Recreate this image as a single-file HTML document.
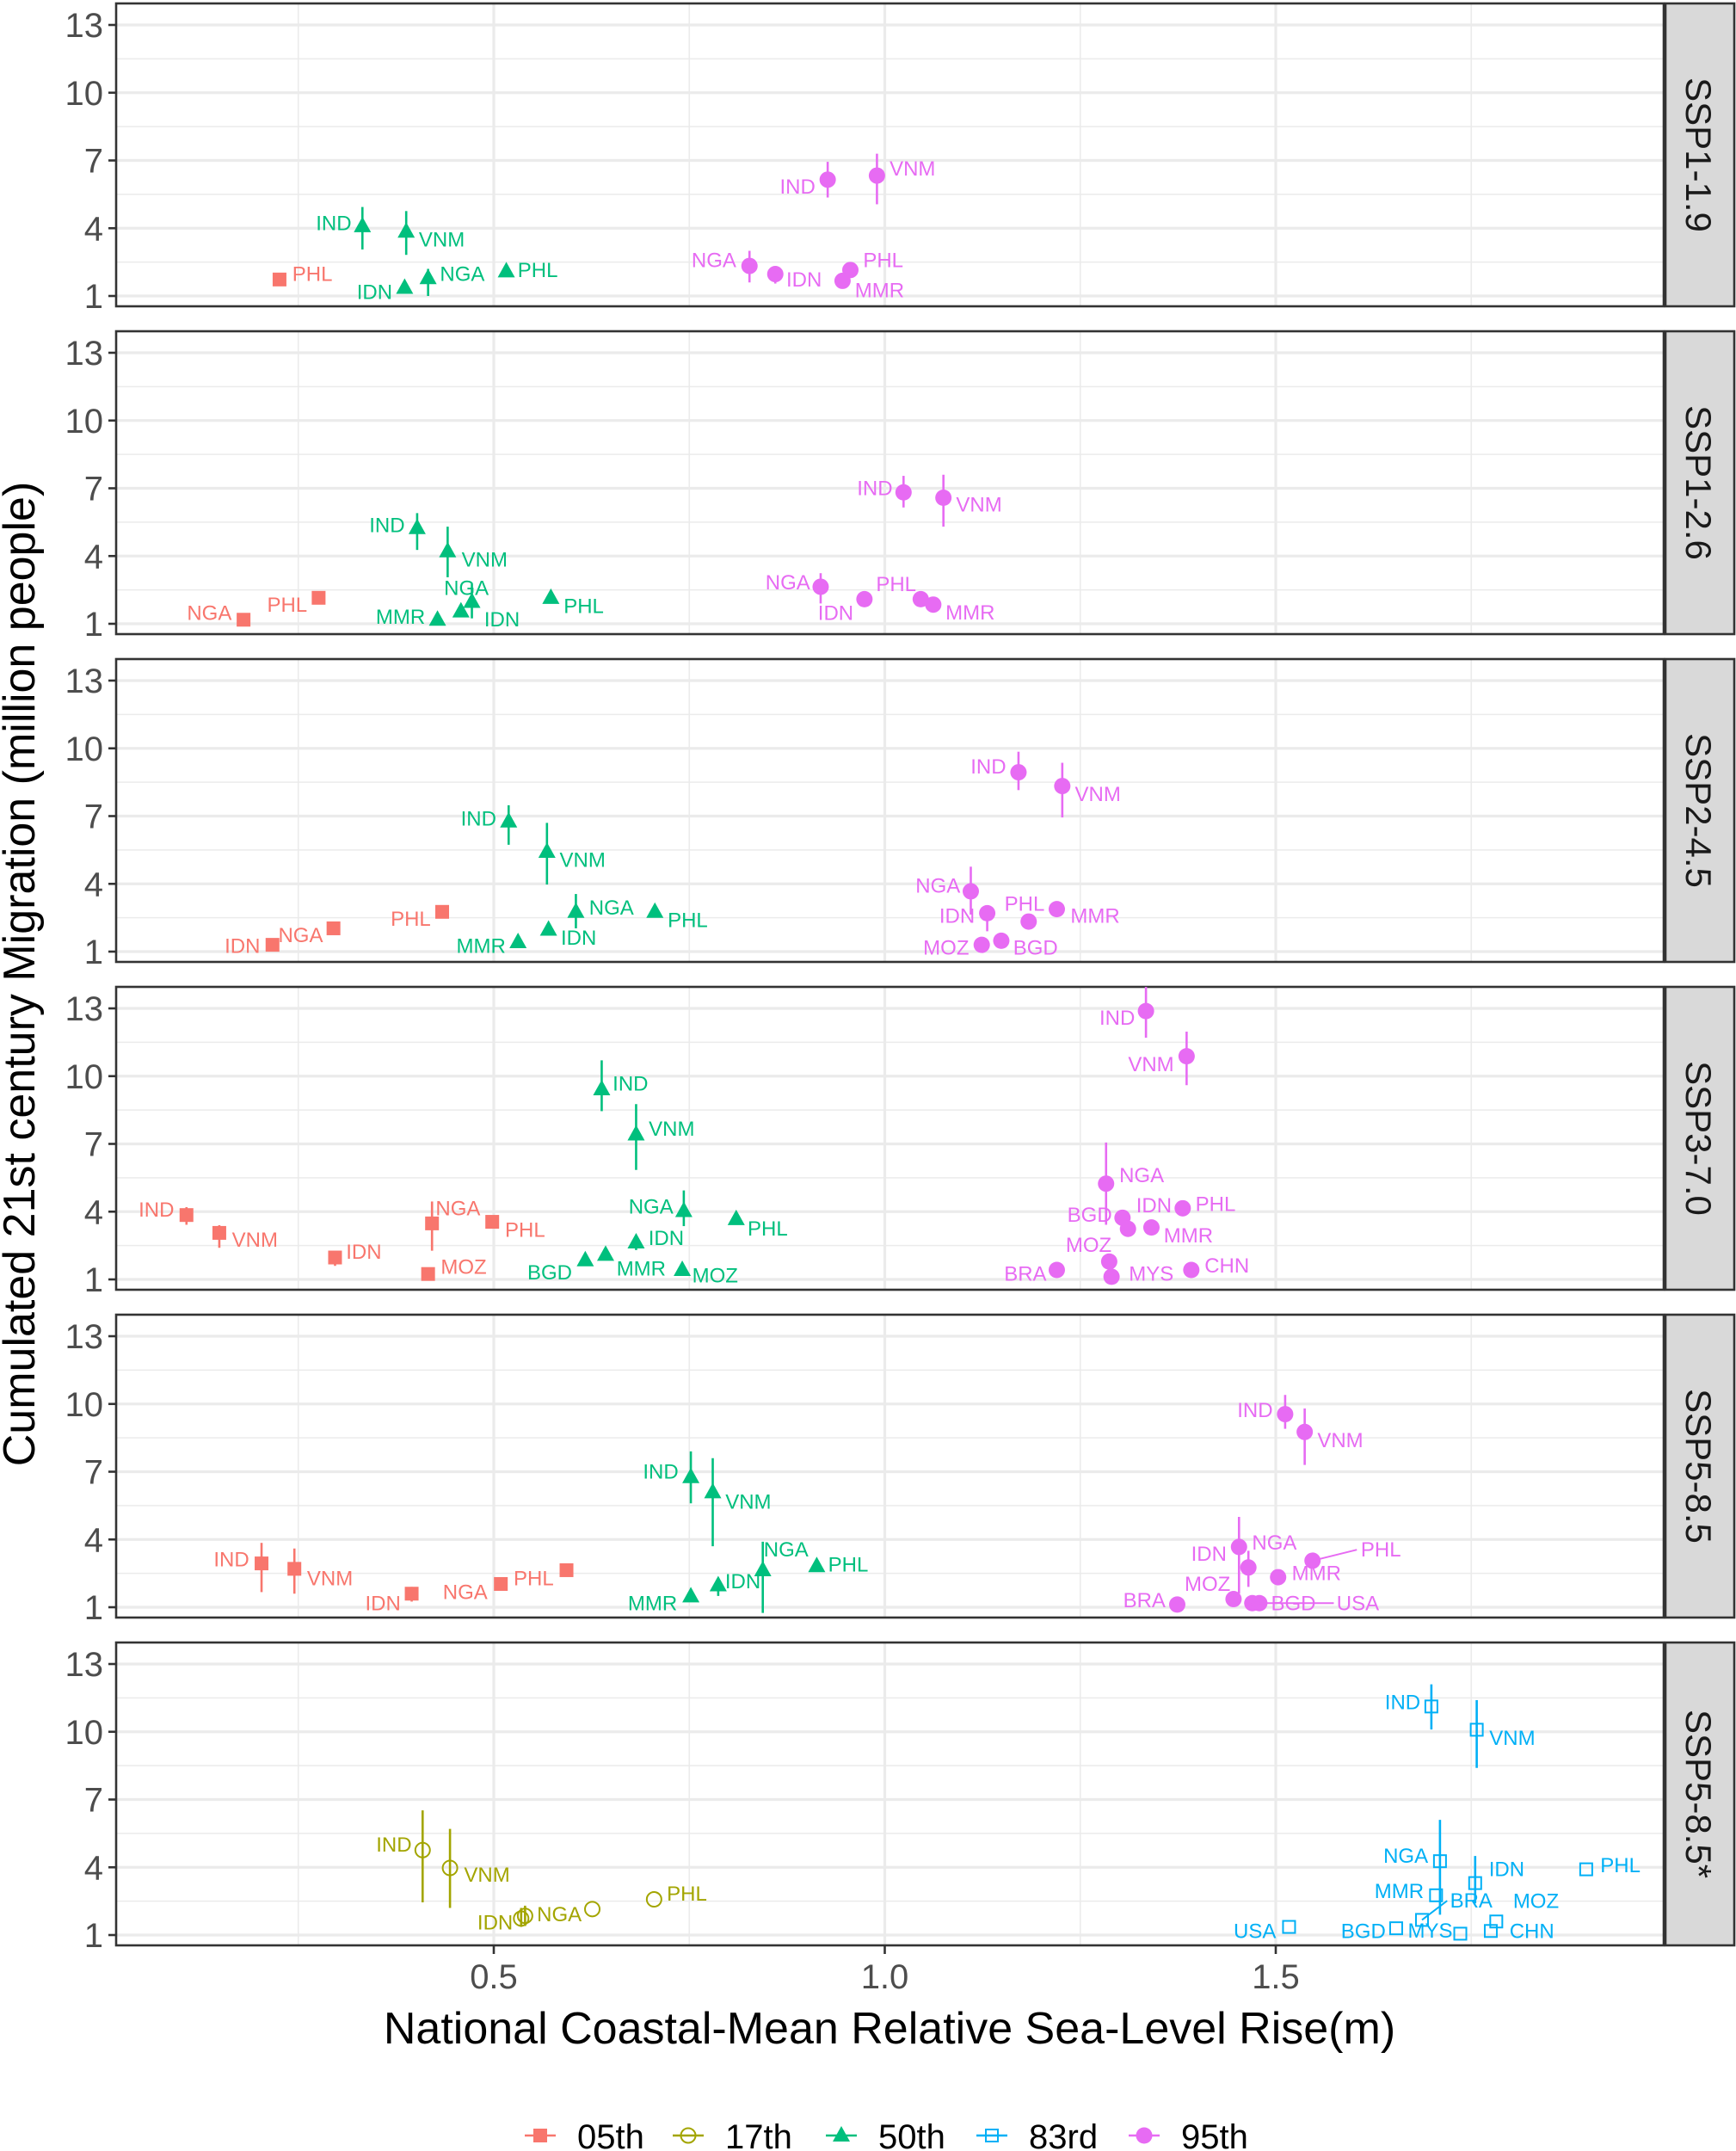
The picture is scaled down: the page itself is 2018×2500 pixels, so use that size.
<!DOCTYPE html>
<html><head><meta charset="utf-8"><style>
html,body{margin:0;padding:0;background:#fff}
svg{display:block;font-family:"Liberation Sans",sans-serif}
</style></head><body>
<svg id="chart" width="2018" height="2500" viewBox="0 0 2018 2500" xmlns="http://www.w3.org/2000/svg">
<g id="panels"></g>
<g id="marks"></g>
<text x="0" y="0" transform="translate(40,1132) rotate(-90)" text-anchor="middle" font-size="52" fill="#000">Cumulated 21st century Migration (million people)</text>
<text x="1034" y="2375" text-anchor="middle" font-size="52" fill="#000">National Coastal-Mean Relative Sea-Level Rise(m)</text>
<g id="legend"></g>
</svg>
<script>
const panelNames = ["SSP1-1.9","SSP1-2.6","SSP2-4.5","SSP3-7.0","SSP5-8.5","SSP5-8.5*"];
const seriesNames = ["05th","17th","50th","83rd","95th"];
const seriesColors = ["#F8766D","#A3A500","#00BF7D","#00B0F6","#E76BF3"];
const xTicks = [0.5,1.0,1.5];
const xTickLabels = ["0.5","1.0","1.5"];
const xMinor = [0.25,0.75,1.25,1.75];
const yTicks = [1,4,7,10,13];
const yMinor = [2.5,5.5,8.5,11.5];

// each point: panel index, series index, code, x, y, low, high
const ptPanel = [0,0,0,0,0,0,0,0,0,0,0,0,
 1,1,1,1,1,1,1,1,1,1,1,1,1,1,
 2,2,2,2,2,2,2,2,2,2,2,2,2,2,2,2,2,
 3,3,3,3,3,3,3,3,3,3,3,3,3,3,3,3,3,3,3,3,3,3,3,3,3,
 4,4,4,4,4,4,4,4,4,4,4,4,4,4,4,4,4,4,4,4,4,
 5,5,5,5,5,5,5,5,5,5,5,5,5,5,5,5,5,5];
const ptSeries = [0,2,2,2,2,2,4,4,4,4,4,4,
 0,0,2,2,2,2,2,2,4,4,4,4,4,4,
 0,0,0,2,2,2,2,2,2,4,4,4,4,4,4,4,4,
 0,0,0,0,0,0,2,2,2,2,2,2,2,2,4,4,4,4,4,4,4,4,4,4,4,
 0,0,0,0,0,2,2,2,2,2,2,4,4,4,4,4,4,4,4,4,4,
 1,1,1,1,1,1,3,3,3,3,3,3,3,3,3,3,3,3];
const ptCode = ["PHL","IND","VNM","IDN","NGA","PHL","IND","VNM","NGA","IDN","PHL","MMR",
 "NGA","PHL","IND","VNM","NGA","IDN","MMR","PHL","IND","VNM","NGA","IDN","PHL","MMR",
 "IDN","NGA","PHL","IND","VNM","NGA","PHL","IDN","MMR","IND","VNM","NGA","IDN","PHL","MMR","BGD","MOZ",
 "IND","VNM","IDN","NGA","PHL","MOZ","IND","VNM","NGA","PHL","IDN","MMR","BGD","MOZ","IND","VNM","NGA","PHL","BGD","IDN","MMR","MOZ","BRA","MYS","CHN",
 "IND","VNM","IDN","NGA","PHL","IND","VNM","NGA","PHL","IDN","MMR","IND","VNM","IDN","NGA","MMR","PHL","MOZ","BRA","BGD","USA",
 "IND","VNM","IDN","NGA","","PHL","IND","VNM","NGA","IDN","PHL","MMR","BRA","BGD","MYS","USA","MOZ","CHN"];
const ptX = [0.226,0.332,0.388,0.386,0.416,0.516,0.927,0.990,0.827,0.860,0.956,0.946,
 0.180,0.276,0.402,0.441,0.472,0.458,0.428,0.573,1.024,1.075,0.918,0.974,1.046,1.062,
 0.217,0.295,0.434,0.519,0.568,0.605,0.706,0.570,0.531,1.171,1.227,1.110,1.131,1.184,1.220,1.149,1.124,
 0.107,0.149,0.297,0.421,0.498,0.416,0.638,0.682,0.743,0.810,0.682,0.643,0.617,0.741,1.334,1.386,1.283,1.381,1.304,1.311,1.341,1.287,1.220,1.290,1.392,
 0.203,0.245,0.395,0.509,0.593,0.752,0.780,0.844,0.913,0.787,0.752,1.512,1.537,1.453,1.465,1.503,1.547,1.446,1.374,1.470,1.479,
 0.409,0.444,0.535,0.540,0.626,0.705,1.699,1.757,1.710,1.755,1.897,1.705,1.687,1.654,1.736,1.517,1.782,1.775];
const ptY = [1.73,4.09,3.85,1.36,1.79,2.09,6.15,6.33,2.33,1.97,2.15,1.67,
 1.18,2.15,5.24,4.21,1.97,1.55,1.18,2.15,6.82,6.58,2.64,2.09,2.09,1.85,
 1.30,2.03,2.76,6.76,5.42,2.76,2.76,1.97,1.42,8.94,8.33,3.67,2.70,2.33,2.88,1.48,1.30,
 3.85,3.06,1.97,3.48,3.55,1.24,9.42,7.42,4.03,3.67,2.64,2.09,1.85,1.42,12.88,10.88,5.24,4.15,3.73,3.24,3.30,1.79,1.42,1.12,1.42,
 2.94,2.70,1.60,2.03,2.64,6.76,6.09,2.64,2.82,1.97,1.48,9.55,8.76,3.67,2.76,2.33,3.06,1.36,1.12,1.18,1.18,
 4.76,3.97,1.73,1.85,2.15,2.58,11.12,10.09,4.27,3.30,3.91,2.76,1.67,1.30,1.06,1.36,1.60,1.18];
const ptLo = [null,3.06,2.82,null,1.0,null,5.36,5.06,1.6,1.55,null,null,
 null,null,4.27,3.06,1.24,null,null,null,6.15,5.3,1.9,1.85,null,null,
 null,null,null,5.73,3.97,2.03,null,null,null,8.15,6.94,2.64,1.9,null,null,null,null,
 3.42,2.4,1.6,2.27,null,null,8.45,5.85,3.36,null,2.3,null,null,null,11.7,9.6,3.42,null,null,null,null,null,null,null,null,
 1.67,1.6,1.25,null,null,5.6,3.7,0.75,null,1.5,null,8.9,7.3,1.6,1.9,null,null,null,null,null,null,
 2.45,2.2,1.36,1.4,null,null,10.1,8.4,1.9,2.4,null,null,null,null,null,null,null,null];
const ptHi = [null,4.94,4.76,null,2.2,null,6.94,7.3,3.0,null,null,null,
 null,null,5.9,5.3,2.76,null,null,null,7.55,7.6,3.24,null,null,null,
 null,null,null,7.48,6.7,3.55,null,null,null,9.85,9.36,4.76,null,null,null,null,null,
 4.2,3.4,null,4.45,null,null,10.7,8.76,4.94,null,null,null,null,null,14.0,11.97,7.06,null,null,null,null,null,null,null,null,
 3.85,3.6,1.9,null,null,7.9,7.6,3.9,null,2.3,null,10.4,9.8,5.0,3.5,null,null,null,null,null,null,
 6.52,5.7,2.2,2.3,null,null,12.1,11.4,6.1,4.5,null,null,null,null,null,null,null,null];
// label offsets (layout, screen px at 1/1.59 scale)
const lblDx = [24,-21,26,-22,25,23,-22,26,-26,21,24,27,
 -25,-23,-22,27,-4,30,-27,24,-21,26,-24,-21,-18,27,
 -22,-24,-23,-22,26,26,24,22,-27,-22,26,-24,-22,-3,28,25,-26,
 -22,26,21,19,24,26,21,26,-24,23,22,26,-26,24,-21,-26,26,24,-24,19,27,-15,-23,29,26,
 -22,26,-21,-26,-24,-22,26,17,23,18,-28,-22,26,-22,19,28,50,-19,-24,30,72,
 -21,27,-19,25,0,24,-21,26,-25,23,25,-27,36,-24,-22,-25,29,30];
const lblDy = [-4,-2,6,3,-3,-1,5,-5,-4,4,-7,7,
 -5,5,-2,6,-10,6,-2,6,-3,5,-3,10,-11,6,
 1,5,5,-2,6,-3,6,6,3,-4,6,-4,2,-13,5,5,2,
 -4,5,-4,-11,6,-5,-4,-4,-3,7,-3,10,9,4,5,6,-6,-3,-2,-17,6,-12,3,-2,-3,
 -3,7,7,6,6,-4,7,-15,-1,-3,5,-3,6,5,-18,-3,-8,-11,-3,0,0,
 -4,5,3,-1,0,-4,-3,6,-4,-10,-3,-3,-14,2,-2,3,-15,0];

const S = 1.591;
const X0 = 135, X1 = 1934, PH = 352, PSTEP = 381, PTOP0 = 4;
function xs(v){ return 574 + (v - 0.5) * 909; }
function ptop(p){ return PTOP0 + p * PSTEP; }
function ys(p, v){ return ptop(p) + 25 + (13 - v) * 26.25; }
const NS = "http://www.w3.org/2000/svg";
function mk(tag, attrs, parent){ const e = document.createElementNS(NS, tag); for (const k in attrs) e.setAttribute(k, attrs[k]); parent.appendChild(e); return e; }

const gP = document.getElementById('panels');
panelNames.forEach((nm, p) => {
  const t = ptop(p);
  const g = mk('g', {}, gP);
  
  
  mk('rect', {x:X0, y:t, width:X1-X0, height:PH, fill:'#fff'}, g);
  yMinor.forEach(v => mk('line', {x1:X0, x2:X1, y1:ys(p,v), y2:ys(p,v), stroke:'#EBEBEB', 'stroke-width':1.6}, g));
  xMinor.forEach(v => mk('line', {x1:xs(v), x2:xs(v), y1:t, y2:t+PH, stroke:'#EBEBEB', 'stroke-width':1.6}, g));
  yTicks.forEach(v => mk('line', {x1:X0, x2:X1, y1:ys(p,v), y2:ys(p,v), stroke:'#EBEBEB', 'stroke-width':3.2}, g));
  xTicks.forEach(v => mk('line', {x1:xs(v), x2:xs(v), y1:t, y2:t+PH, stroke:'#EBEBEB', 'stroke-width':3.2}, g));
  mk('rect', {x:X0, y:t, width:X1-X0, height:PH, fill:'none', stroke:'#333', 'stroke-width':2.6}, g);
  yTicks.forEach(v => {
    mk('line', {x1:X0-9, x2:X0, y1:ys(p,v), y2:ys(p,v), stroke:'#333', 'stroke-width':2.6}, g);
    const tl = mk('text', {x:X0-15, y:ys(p,v)+14, 'text-anchor':'end', 'font-size':40, fill:'#4D4D4D'}, g);
    
    
    tl.textContent = v;
  });
  const sr = mk('rect', {x:X1+2, y:t, width:2016-X1-2, height:PH, fill:'#D9D9D9', stroke:'#333', 'stroke-width':2.6}, g);
  
  
  const st = mk('text', {x:0, y:0, transform:`translate(${(X1+2016)/2-15},${t+PH/2}) rotate(90)`, 'text-anchor':'middle', 'font-size':42, fill:'#1A1A1A'}, g);
  
  
  st.textContent = nm;
});
// x axis
const lastB = ptop(5) + PH;
xTicks.forEach((v, i) => {
  mk('line', {x1:xs(v), x2:xs(v), y1:lastB, y2:lastB+10, stroke:'#333', 'stroke-width':2.6}, gP);
  const tl = mk('text', {x:xs(v), y:lastB+50, 'text-anchor':'middle', 'font-size':40, fill:'#4D4D4D'}, gP);
  
  
  tl.textContent = xTickLabels[i];
});

function glyph(s, cx, cy, col, parent){
  if (s === 0) return mk('rect', {x:cx-8, y:cy-8, width:16, height:16, fill:col}, parent);
  if (s === 1) return mk('circle', {cx:cx, cy:cy, r:8.5, fill:'none', stroke:col, 'stroke-width':2}, parent);
  if (s === 2) return mk('polygon', {points:`${cx},${cy-11} ${cx+10},${cy+7} ${cx-10},${cy+7}`, fill:col}, parent);
  if (s === 3) return mk('rect', {x:cx-7, y:cy-7, width:14, height:14, fill:'none', stroke:col, 'stroke-width':2}, parent);
  return mk('circle', {cx:cx, cy:cy, r:9.5, fill:col}, parent);
}
const gM = document.getElementById('marks');
for (let i = 0; i < ptX.length; i++){
  const p = ptPanel[i], s = ptSeries[i], col = seriesColors[s];
  const cx = xs(ptX[i]), cy = ys(p, ptY[i]);
  const g = mk('g', {}, gM);
  
  
  const lo = ptLo[i] == null ? ptY[i] : ptLo[i];
  const hi = ptHi[i] == null ? ptY[i] : ptHi[i];
  if (lo !== hi) mk('line', {x1:cx, x2:cx, y1:ys(p, Math.min(hi, 13.95)), y2:ys(p, Math.max(lo, 0.5)), stroke:col, 'stroke-width':2.6}, g);
  glyph(s, cx, cy, col, g);
  if (ptCode[i]){
    const lx = cx + lblDx[i]*S, ly = cy + lblDy[i]*S;
    if (Math.abs(lblDx[i]) > 33) mk('line', {x1:cx, y1:cy, x2:lx - Math.sign(lblDx[i])*28, y2:ly, stroke:col, 'stroke-width':2}, g);
    const t = mk('text', {x:lx, y:ly+8, 'text-anchor':'middle', 'font-size':24, fill:col}, g);
    
    
    t.textContent = ptCode[i];
  }
}
// legend
const gL = document.getElementById('legend');
const legX = [628, 800, 978, 1153, 1330];
seriesNames.forEach((nm, s) => {
  const g = mk('g', {}, gL);
  
  
  const cx = legX[s], cy = 2482;
  mk('line', {x1:cx-18, x2:cx+18, y1:cy, y2:cy, stroke:seriesColors[s], 'stroke-width':2.6}, g);
  glyph(s, cx, cy, seriesColors[s], g);
  const t = mk('text', {x:cx+43, y:cy+15, 'font-size':40, fill:'#000'}, g);
  t.textContent = nm;
});
</script>
</body></html>
